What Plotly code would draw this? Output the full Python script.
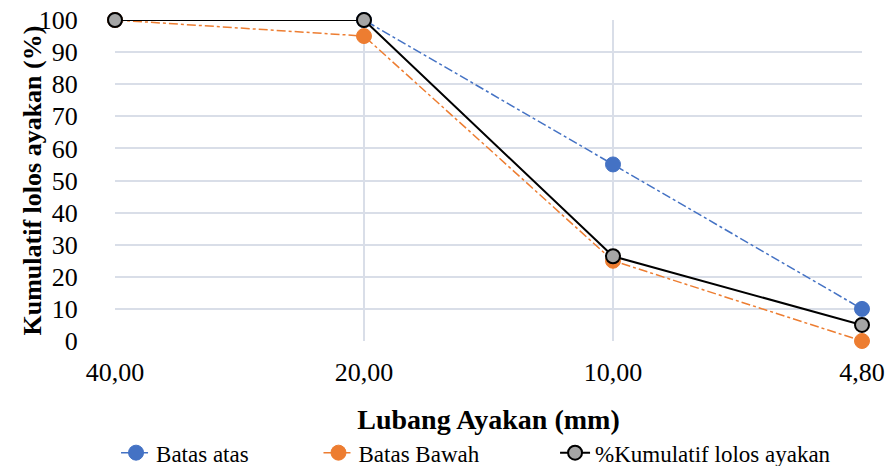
import plotly.graph_objects as go

# Sieve openings (mm) and grading limits / cumulative passing (%)
ukuran_ayakan = ["40,00", "20,00", "10,00", "4,80"]
batas_atas = [100, 100, 55, 10]
batas_bawah = [100, 95, 25, 0]
kumulatif_lolos = [100, 100, 26.4, 5]
y_ticks = list(range(0, 101, 10))

font_serif = "Liberation Serif"
legend_font = dict(family=font_serif, size=23, color="#000000")

fig = go.Figure()
fig.add_trace(go.Scatter(
    x=ukuran_ayakan, y=batas_atas, name="Batas atas", legend="legend",
    mode="lines+markers", cliponaxis=False,
    line=dict(color="#4472C4", width=1.5, dash="dashdot"),
    marker=dict(color="#4472C4", size=15, line=dict(color="#4472C4", width=1)),
))
fig.add_trace(go.Scatter(
    x=ukuran_ayakan, y=batas_bawah, name="Batas Bawah", legend="legend2",
    mode="lines+markers", cliponaxis=False,
    line=dict(color="#ED7D31", width=1.5, dash="dashdot"),
    marker=dict(color="#ED7D31", size=15, line=dict(color="#ED7D31", width=1)),
))
fig.add_trace(go.Scatter(
    x=ukuran_ayakan, y=kumulatif_lolos, name="%Kumulatif lolos ayakan", legend="legend3",
    mode="lines+markers", cliponaxis=False,
    line=dict(color="#000000", width=2),
    marker=dict(color="#A5A5A5", size=14, line=dict(color="#000000", width=2)),
))

# one legend box per series so the entries sit along the bottom like a single row
legend_common = dict(orientation="h", xanchor="left", y=-0.348, yanchor="middle",
                     font=legend_font, bgcolor="rgba(0,0,0,0)")

fig.update_layout(
    width=891, height=466,
    margin=dict(l=115, r=29, t=20, b=125, autoexpand=False),
    paper_bgcolor="white", plot_bgcolor="white",
    font=dict(family=font_serif, size=26, color="#000000"),
    showlegend=True,
    legend=dict(x=0.0014, **legend_common),
    legend2=dict(x=0.2724, **legend_common),
    legend3=dict(x=0.5891, **legend_common),
    xaxis=dict(
        type="category", range=[0, 3],
        showgrid=True, gridcolor="#D9DEE8", gridwidth=1.5,
        showline=False, zeroline=False,
        ticks="outside", ticklen=8, tickcolor="rgba(0,0,0,0)",
        tickfont=dict(family=font_serif, size=26),
        title=dict(text="<b>Lubang Ayakan (mm)</b>", font=dict(family=font_serif, size=28), standoff=23),
    ),
    yaxis=dict(
        range=[0, 100], tickvals=y_ticks,
        showgrid=True, gridcolor="#D9DEE8", gridwidth=1.5,
        showline=False, zeroline=False,
        ticks="outside", ticklen=31, tickcolor="rgba(0,0,0,0)",
        tickfont=dict(family=font_serif, size=26),
    ),
    annotations=[dict(
        text="<b>Kumulatif lolos ayakan (%)</b>", textangle=-90,
        xref="paper", yref="paper", x=-0.1098, y=0.5,
        xanchor="center", yanchor="middle", showarrow=False,
        font=dict(family=font_serif, size=26, color="#000000"),
    )],
)

fig.write_html("out.html")
